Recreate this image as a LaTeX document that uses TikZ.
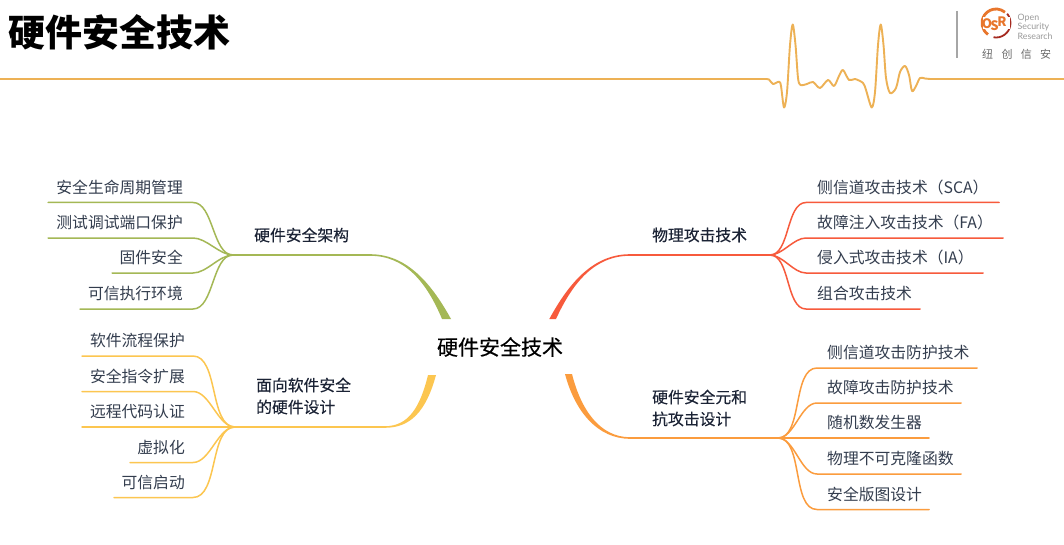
\documentclass[tikz,border=0pt]{standalone}
\usepackage{fontspec}
\setmainfont{Noto Sans CJK SC}
\newfontfamily\medcjk[FakeBold=0.25]{Noto Sans CJK SC}
\newfontfamily\latinlogo{Lato}
\usetikzlibrary{calc}
\definecolor{cgreen}{HTML}{A4B855}
\definecolor{cyellow}{HTML}{FCC650}
\definecolor{cred}{HTML}{F75A3C}
\definecolor{corange}{HTML}{FB9C3E}
\definecolor{cgold}{HTML}{EDB155}
\definecolor{cleaf}{HTML}{333D4E}
\definecolor{cbranch}{HTML}{1B2335}
\definecolor{clogoO}{HTML}{E8762C}
\definecolor{clogoR}{HTML}{A52A20}
\tikzset{
  x=1pt,y=-1pt,
  leaftext/.style={font=\fontsize{15.8}{15.8}\selectfont,text=cleaf,inner sep=0pt},
  branchtext/.style={font=\medcjk\fontsize{15.8}{15.8}\selectfont,text=cbranch,inner sep=0pt,anchor=west},
  wire/.style={line width=1.5pt,line cap=round},
  logoletter/.style={font=\bfseries\fontsize{13}{13}\selectfont,text=clogoO,inner sep=0pt},
}
\newcommand{\lleaf}[5]{% name, x of line end, y line, x text, text
  \coordinate (#1s) at (193,#3);
  \coordinate (#1e) at (#2,#3);
  \node[leaftext,anchor=east] (#1t) at (#4,#3-15.2) {#5};
}
\newcommand{\rleaf}[6]{% name, x bend, x end, y, x text, text
  \coordinate (#1s) at (#2,#4);
  \coordinate (#1e) at (#3,#4);
  \node[leaftext,anchor=west] (#1t) at (#5,#4-15.2) {#6};
}
\begin{document}
\begin{tikzpicture}
\useasboundingbox (0,0) rectangle (1064,545);
\fill[white] (0,0) rectangle (1064,545);

% header
\node[font=\bfseries\fontsize{37}{37}\selectfont,text=black,inner sep=0pt,anchor=west] (title) at (8,32) {硬件安全技术};
\draw[cgold,line width=1.9pt,line join=round]
 (0,79) -- (765,79)
 plot[smooth,tension=0.5] coordinates {(765,79) (769,79.5) (773,84) (779,81.7) (781,86) (784,107.5) (787,92) (790,45) (792.7,24.5) (795.5,45) (798,78) (800.5,85) (807,84) (813,82) (820,88) (828,80) (834,86) (839,76) (843,70) (849,80) (855,79) (863,83) (866,90) (871.7,107.5) (875,92) (878,45) (880.7,24.5) (883.5,45) (886,78) (890,93) (896,88) (900,72) (905,66) (909,75) (912,91) (916,86) (920,78) (925,78.5) (930,79)}
 -- (1064,79);
\coordinate (sepA) at (957,11);
\coordinate (sepB) at (957,58);
\draw[gray!70,line width=1.4pt] (sepA) -- (sepB);
\draw[clogoR,line width=1.8pt] (996,23) ++(100:14.5) arc[start angle=100,end angle=-40,radius=14.5];
\draw[clogoO,line width=2.8pt] (996,23) ++(125:14) arc[start angle=125,end angle=310,radius=14];
\fill[white] (983,17) rectangle (1010,29);
\node[logoletter] (logoO) at (987,23.5) {O};
\node[logoletter] (logoS) at (994.5,26) {S};
\node[logoletter] (logoR) at (1002,21.5) {R};
\node[font=\latinlogo\fontsize{8.8}{9.5}\selectfont,text=gray!80,inner sep=0pt,anchor=west,align=left] (osrtext) at (1017.5,26.5) {Open\\Security\\Research};
\node[font=\fontsize{11}{11}\selectfont,text=gray!85!black,inner sep=0pt,anchor=west] (cn) at (982,54.5) {纽\hspace{8.3pt}创\hspace{8.3pt}信\hspace{8.3pt}安};

% centre
\node[font=\medcjk\fontsize{21}{21}\selectfont,text=black,inner sep=0pt] (root) at (500,347) {硬件安全技术};

% green branch
\coordinate (ghub) at (233,255);
\fill[cgreen] (ghub) ++(0,-0.8) -- (370,254.2) .. controls (405,254.2) and (429.5,280) .. (451,319) -- (442,319) .. controls (426.5,282) and (405,255.8) .. (370,255.8) -- (233,255.8) -- cycle;
\node[branchtext] (gb) at (254,235) {硬件安全架构};
\lleaf{g1}{48}{202.5}{183}{安全生命周期管理}
\lleaf{g2}{48}{238}{183}{测试调试端口保护}
\lleaf{g3}{112}{273}{183}{固件安全}
\lleaf{g4}{80}{309}{183}{可信执行环境}
\foreach \n in {g1,g2,g3,g4}
  \draw[cgreen,wire] (ghub) to[out=180,in=0,looseness=0.8] (\n s) -- (\n e);

% yellow branch
\coordinate (yhub) at (235,427);
\fill[cyellow] (yhub) ++(0,-0.8) -- (385,426.2) .. controls (408,426.2) and (420,408) .. (428,375) -- (436,375) .. controls (426,412) and (410,427.8) .. (385,427.8) -- (235,427.8) -- cycle;
\node[branchtext] (yb1) at (256,385) {面向软件安全};
\node[branchtext] (yb2) at (256,407) {的硬件设计};
\lleaf{y1}{82}{356}{185}{软件流程保护}
\lleaf{y2}{82}{391.5}{185}{安全指令扩展}
\lleaf{y3}{82}{427}{185}{远程代码认证}
\lleaf{y4}{130}{462.5}{185}{虚拟化}
\lleaf{y5}{114}{497.5}{185}{可信启动}
\foreach \n in {y1,y2,y4,y5}
  \draw[cyellow,wire] (yhub) to[out=180,in=0,looseness=0.8] (\n s) -- (\n e);
\draw[cyellow,wire] (yhub) -- (y3e);

% red branch
\coordinate (rhub) at (770,255);
\fill[cred] (rhub) ++(0,-0.8) -- (630,254.2) .. controls (595,254.2) and (570.5,280) .. (549.3,319) -- (556,319) .. controls (573,282) and (595,255.8) .. (630,255.8) -- (770,255.8) -- cycle;
\node[branchtext] (rb) at (652,235) {物理攻击技术};
\rleaf{r1}{806}{999}{202.5}{817}{侧信道攻击技术（SCA）}
\rleaf{r2}{806}{1003}{238}{817}{故障注入攻击技术（FA）}
\rleaf{r3}{806}{983}{273}{817}{侵入式攻击技术（IA）}
\rleaf{r4}{806}{920}{309}{817}{组合攻击技术}
\foreach \n in {r1,r2,r3,r4}
  \draw[cred,wire] (rhub) to[out=0,in=180,looseness=0.8] (\n s) -- (\n e);

% orange branch
\coordinate (ohub) at (778,438);
\fill[corange] (ohub) ++(0,-0.8) -- (630,437.2) .. controls (600,437.2) and (581,410) .. (572,374) -- (565,374) .. controls (575,412) and (598,438.8) .. (630,438.8) -- (778,438.8) -- cycle;
\node[branchtext] (ob1) at (652,397) {硬件安全元和};
\node[branchtext] (ob2) at (652,419) {抗攻击设计};
\rleaf{o1}{817}{977}{368}{827}{侧信道攻击防护技术}
\rleaf{o2}{817}{961}{403}{827}{故障攻击防护技术}
\rleaf{o3}{817}{929}{438}{827}{随机数发生器}
\rleaf{o4}{817}{961}{474}{827}{物理不可克隆函数}
\rleaf{o5}{817}{929}{509.5}{827}{安全版图设计}
\foreach \n in {o1,o2,o4,o5}
  \draw[corange,wire] (ohub) to[out=0,in=180,looseness=0.8] (\n s) -- (\n e);
\draw[corange,wire] (ohub) -- (o3e);
\end{tikzpicture}
\end{document}
